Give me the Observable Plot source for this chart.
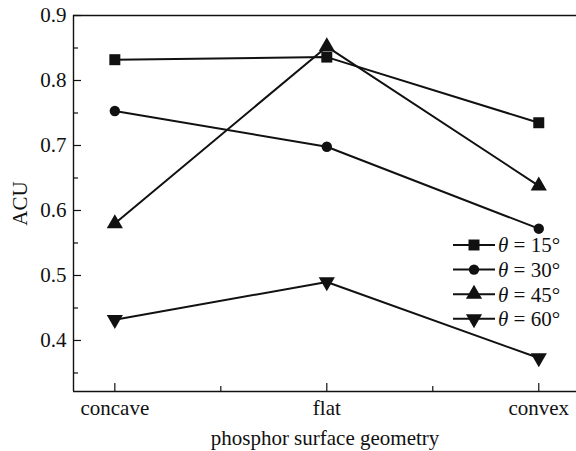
<!DOCTYPE html>
<html><head><meta charset="utf-8">
<script src="https://cdn.jsdelivr.net/npm/d3@7"></script>
<script src="https://cdn.jsdelivr.net/npm/@observablehq/plot@0.6"></script>
<style>
body{margin:0;background:#fff}
#chart{position:relative;width:576px;height:451px;font-family:"Liberation Serif","Times New Roman",serif}
#chart svg{display:block}
#legend{position:absolute;left:0;top:0}
</style>
</head><body><div id="chart"></div>
<script>
const categories = ["concave", "flat", "convex"];
const seriesNames = ["θ = 15°", "θ = 30°", "θ = 45°", "θ = 60°"];
const theta15 = [0.832, 0.836, 0.735];
const theta30 = [0.753, 0.698, 0.572];
const theta45 = [0.580, 0.852, 0.638];
const theta60 = [0.432, 0.490, 0.373];
const yMajorTicks = [0.4, 0.5, 0.6, 0.7, 0.8, 0.9];
const yMinorTicks = [0.35, 0.45, 0.55, 0.65, 0.75, 0.85];
const xMajorTicks = [0, 1, 2];
const xMinorTicks = [0.5, 1.5];
const yDomain = [0.3215, 0.9];
const xDomain = [-0.195, 2.178];

const seriesValues = [theta15, theta30, theta45, theta60];
const seriesStyle = [
  {symbol: "square", r: 6.2, rotate: 0},
  {symbol: "circle", r: 5.2, rotate: 0},
  {symbol: "triangle", r: 6, rotate: 0},
  {symbol: "triangle", r: 6, rotate: 180}
];
const ink = "#111";
const table = seriesNames.flatMap((s, k) => seriesValues[k].map((v, i) => ({series: s, k, i, value: v})));

const fs = 21;
const chart = Plot.plot({
  width: 576,
  height: 451,
  marginLeft: 73,
  marginRight: 0,
  marginTop: 15,
  marginBottom: 60,
  style: {fontFamily: '"Liberation Serif","Times New Roman",serif', fontSize: fs + "px", color: ink, background: "#fff"},
  x: {domain: xDomain},
  y: {domain: yDomain},
  marks: [
    Plot.ruleY([yDomain[1]], {stroke: ink, strokeWidth: 1.4}),
    Plot.ruleY([yDomain[0]], {stroke: ink, strokeWidth: 1.4}),
    Plot.ruleX([xDomain[0]], {stroke: ink, strokeWidth: 1.4}),
    Plot.axisY(yMajorTicks, {tickSize: -8, tickFormat: () => "", label: null, stroke: ink, strokeWidth: 1.2}),
    Plot.axisY(yMinorTicks, {tickSize: -5, tickFormat: () => "", label: null, stroke: ink, strokeWidth: 1.2}),
    Plot.axisY(yMajorTicks, {tickSize: 0, tickPadding: 7, tickFormat: d3.format(".1f"), fontSize: fs, fill: ink,
      label: "ACU", labelAnchor: "center", labelArrow: "none", labelOffset: 61}),
    Plot.axisX(xMajorTicks, {tickSize: -8, tickFormat: () => "", label: null, stroke: ink, strokeWidth: 1.2}),
    Plot.axisX(xMinorTicks, {tickSize: -5, tickFormat: () => "", label: null, stroke: ink, strokeWidth: 1.2}),
    Plot.axisX(xMajorTicks, {tickSize: 0, tickPadding: 9, tickFormat: i => categories[i], fontSize: fs, fill: ink,
      label: "phosphor surface geometry", labelAnchor: "center", labelArrow: "none", labelOffset: 53}),
    Plot.line(table, {x: "i", y: "value", z: "series", stroke: ink, strokeWidth: 2}),
    ...seriesStyle.map((st, k) => Plot.dot(table.filter(d => d.k === k), {
      x: "i", y: "value", symbol: st.symbol, r: st.r, rotate: st.rotate, fill: ink, stroke: "none"
    }))
  ]
});
const host = document.getElementById("chart");
host.appendChild(chart);

// legend overlay
const leg = d3.select(host).append("svg").attr("id", "legend").attr("width", 576).attr("height", 451);
const legX0 = 453, legX1 = 495, legM = 474, legT = 498, legY0 = 245, legDy = 24.6;
seriesNames.forEach((name, k) => {
  const y = legY0 + k * legDy;
  const g = leg.append("g");
  g.append("line").attr("x1", legX0).attr("x2", legX1).attr("y1", y).attr("y2", y).attr("stroke", ink).attr("stroke-width", 2);
  const st = seriesStyle[k];
  const type = st.symbol === "square" ? d3.symbolSquare : st.symbol === "circle" ? d3.symbolCircle : d3.symbolTriangle;
  g.append("path").attr("d", d3.symbol(type, Math.PI * st.r * st.r)())
    .attr("transform", `translate(${legM},${y}) rotate(${st.rotate})`).attr("fill", ink);
  const parts = name.split(" ");
  const t = g.append("text").attr("x", legT).attr("y", y).attr("dy", "0.35em")
    .attr("font-family", '"Liberation Serif","Times New Roman",serif').attr("font-size", fs).attr("fill", ink);
  t.append("tspan").attr("font-style", "italic").text(parts[0]);
  t.append("tspan").text(" " + parts.slice(1).join(" "));
});
</script>
</body></html>
